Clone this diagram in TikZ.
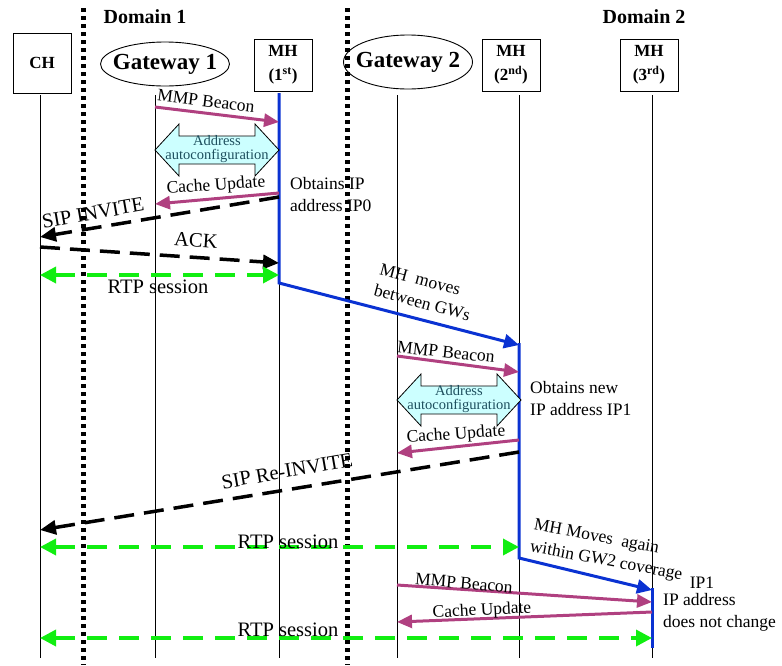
\documentclass[tikz,border=0pt]{standalone}
\usepackage{fontspec}
\setmainfont{Liberation Serif}
\usetikzlibrary{arrows.meta,shapes.geometric}
\definecolor{BeaconMagenta}{RGB}{176,64,128}
\definecolor{MoveBlue}{RGB}{10,50,210}
\definecolor{SessionGreen}{RGB}{17,238,17}
\definecolor{ConfCyan}{HTML}{CCFFFF}
\definecolor{ConfText}{HTML}{1E4F5E}
\tikzset{
  entity/.style={draw,line width=0.9pt,minimum width=58pt,minimum height=52pt,inner sep=0pt,align=center,font=\fontsize{17}{24}\selectfont\bfseries},
  gateway/.style={draw,ellipse,line width=0.9pt,minimum width=129pt,minimum height=44pt,inner xsep=-12pt,inner ysep=0pt,font=\fontsize{23}{26}\selectfont\bfseries},
  domainlbl/.style={font=\fontsize{20}{22}\selectfont\bfseries,inner sep=0pt},
  lifeline/.style={line width=0.8pt},
  domainsep/.style={line width=5pt,dash pattern=on 4pt off 4pt},
  beacon/.style={BeaconMagenta,line width=3pt,-{Triangle[length=15pt,width=13pt]}},
  sip/.style={line width=3.5pt,dash pattern=on 20pt off 10pt,-{Triangle[length=16pt,width=14pt]}},
  rtp/.style={SessionGreen,line width=3.5pt,dash pattern=on 20pt off 12pt,{Triangle[length=16pt,width=16pt]}-{Triangle[length=16pt,width=16pt]}},
  mhmove/.style={MoveBlue,line width=3pt},
  movetip/.style={-{Triangle[length=15pt,width=14pt]}},
  conf/.style={draw,line width=0.8pt,fill=ConfCyan},
  conftext/.style={ConfText,font=\fontsize{14.5}{13.5}\selectfont,align=center,inner sep=0pt},
  lbl/.style={font=\fontsize{17.5}{22}\selectfont,inner sep=0pt,align=left},
  biglbl/.style={font=\fontsize{20.5}{23}\selectfont,inner sep=0pt}
}
\begin{document}
\begin{tikzpicture}[x=1pt,y=-1pt]
\useasboundingbox (0,0) rectangle (782,665);
% headers
\node[domainlbl] (dom1) at (145,17) {Domain 1};
\node[domainlbl] (dom2) at (644,17) {Domain 2};
\node[entity,minimum height=60pt] (chbox) at (42,63) {CH};
\node[gateway] (gw1box) at (165,64) {Gateway 1};
\node[entity] (mh1box) at (283,65) {MH\\(1\textsuperscript{st})};
\node[gateway,minimum height=54pt] (gw2box) at (408,62) {Gateway 2};
\node[entity] (mh2box) at (511,65) {MH\\(2\textsuperscript{nd})};
\node[entity] (mh3box) at (649,65) {MH\\(3\textsuperscript{rd})};

% lifelines
\foreach \n/\x in {ch/40,gwa/155,mha/279,gwb/397,mhb/519,mhc/652}{
  \coordinate (\n) at (\x,95);
  \draw[lifeline] (\n) -- ++(0,563);
}

% domain borders
\coordinate (sepa) at (83,8);
\coordinate (sepb) at (347,8);
\draw[domainsep] (sepa) -- ++(0,657);
\draw[domainsep] (sepb) -- ++(0,657);

% MH movement
\draw[mhmove,movetip] (mha |- 0,93) -- (mha |- 0,283) -- (mhb |- 0,345);
\draw[mhmove,movetip] (mhb |- 0,343) -- (mhb |- 0,558) -- (mhc |- 0,590);
\draw[mhmove] (mhc |- 0,588) -- (mhc |- 0,648);

% address autoconfiguration
\foreach \gw/\cy in {gwa/150,gwb/400}{
  \draw[conf] (\gw |- 0,\cy) -- ++(24,-26) -- ++(0,12) -- ++(76,0) -- ++(0,-12) -- ++(24,26)
    -- ++(-24,26) -- ++(0,-12) -- ++(-76,0) -- ++(0,12) -- cycle;
  \path (\gw |- 0,\cy) ++(62,-1) node[conftext] (conf\gw) {Address\\autoconfiguration};
}

% first attachment
\draw[beacon] (gwa |- 0,107) -- (mha |- 0,122);
\node[lbl,rotate=-7] (beacon1) at (206,101) {MMP Beacon};
\draw[beacon] (mha |- 0,193) -- (gwa |- 0,204);
\node[lbl,rotate=4] (cache1) at (216,186) {Cache Update};
\node[lbl,anchor=west] (ip0) at (290,195) {Obtains IP\\address IP0};
\draw[sip] (mha |- 0,197) -- (ch |- 0,237);
\node[biglbl,rotate=10] (invite) at (93,213) {SIP INVITE};
\draw[sip] (ch |- 0,247) -- (mha |- 0,263);
\node[biglbl,rotate=-4] (ack) at (196,240) {ACK};
\draw[rtp] (ch |- 0,275) -- (mha |- 0,275);
\node[biglbl] (rtp1) at (158,287) {RTP session};
\node[lbl,rotate=-15] (moves1) at (425,292) {MH\ \ moves\\between GWs};

% handover to gateway 2
\draw[beacon] (gwb |- 0,356) -- (mhb |- 0,372);
\node[lbl,rotate=-6] (beacon2) at (446,352) {MMP Beacon};
\node[lbl,anchor=west] (ip1) at (530,399) {Obtains new\\IP address IP1};
\draw[beacon] (mhb |- 0,440) -- (gwb |- 0,453);
\node[lbl,rotate=4] (cache2) at (456,435) {Cache Update};
\draw[sip] (mhb |- 0,452) -- (ch |- 0,530);
\node[biglbl,rotate=10] (reinvite) at (287,471) {SIP Re-INVITE};
\draw[rtp] (ch |- 0,547) -- (mhb |- 0,547);
\node[biglbl] (rtp2) at (288,542) {RTP session};

% move within gateway 2
\node[lbl,rotate=-10.5] (moves2) at (608,551) {MH Moves\ \ again\\within GW2 coverage};
\node[lbl] (ip1b) at (702,583) {IP1};
\node[lbl,anchor=west] (nochange) at (663,612) {IP address\\does not change};
\draw[beacon] (gwb |- 0,585) -- (mhc |- 0,602);
\node[lbl,rotate=-5] (beacon3) at (464,583) {MMP Beacon};
\draw[beacon] (mhc |- 0,612) -- (gwb |- 0,622);
\node[lbl,rotate=3] (cache3) at (482,611) {Cache Update};
\draw[rtp] (ch |- 0,638) -- (mhc |- 0,638);
\node[biglbl] (rtp3) at (288,630) {RTP session};
\end{tikzpicture}
\end{document}
